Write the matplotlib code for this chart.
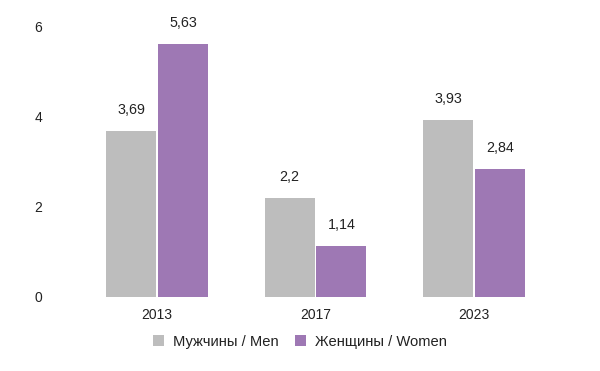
import matplotlib.pyplot as plt
import numpy as np

plt.rcParams['font.family'] = ['Liberation Sans', 'DejaVu Sans']

years = ['2013', '2017', '2023']
men = [3.69, 2.2, 3.93]
women = [5.63, 1.14, 2.84]
men_lbl = ['3,69', '2,2', '3,93']
women_lbl = ['5,63', '1,14', '2,84']

grey = '#bdbdbd'
purple = '#9e78b4'

fig = plt.figure(figsize=(6, 3.71), dpi=100)
ax = fig.add_axes([45/600, 1-297/371, 545/600, 270/371])

x = np.arange(len(years))
w = 0.315
b1 = ax.bar(x - w/2 - 0.006, men, w, color=grey, label='Мужчины / Men')
b2 = ax.bar(x + w/2 + 0.006, women, w, color=purple, label='Женщины / Women')

for bars, lbls in ((b1, men_lbl), (b2, women_lbl)):
    for r, t in zip(bars, lbls):
        ax.annotate(t, (r.get_x() + r.get_width()/2, r.get_height()),
                    xytext=(0, 10), textcoords='offset points',
                    ha='center', va='bottom', fontsize=10.3, color='#222222')

ax.set_xlim(-(157-45)/158.5, (590-157)/158.5)
ax.set_ylim(0, 6)
ax.set_yticks([0, 2, 4, 6])
ax.set_xticks(x)
ax.set_xticklabels(years)
ax.tick_params(length=0, labelsize=10, colors='#222222')
ax.tick_params(axis='x', pad=8)
ax.tick_params(axis='y', pad=2)
for s in ax.spines.values():
    s.set_visible(False)

leg = ax.legend(loc='center', bbox_to_anchor=(0.5, 1-342/371), bbox_transform=fig.transFigure,
                ncol=2, frameon=False, fontsize=10.6, handlelength=0.75, handleheight=0.75,
                handletextpad=0.6, columnspacing=1.1)
for t in leg.get_texts():
    t.set_color('#222222')

fig.savefig('out.png', dpi=100)
